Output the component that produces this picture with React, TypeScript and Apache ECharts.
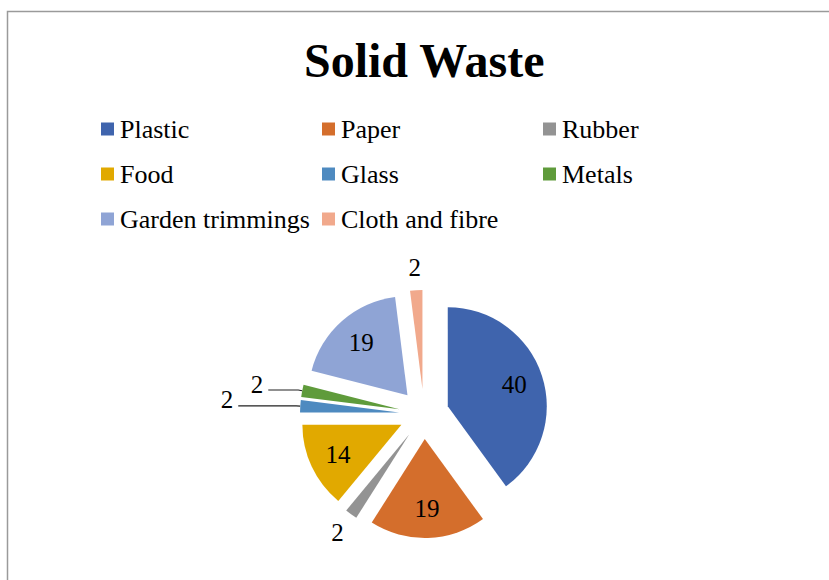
import React, { useEffect, useRef } from 'react';
import * as echarts from 'echarts';

const categories = ['Plastic', 'Paper', 'Rubber', 'Food', 'Glass', 'Metals', 'Garden trimmings', 'Cloth and fibre'];
const values = [40, 19, 2, 14, 2, 2, 19, 2];
const colors = ['#3F64AD', '#D46E2C', '#939393', '#E1A900', '#4E8AC0', '#5F9B3B', '#8FA4D5', '#F1A98C'];

// layout / style constants
const CX = 424;
const CY = 414;
const R = 99;
const OFF = 25;
const FONT = '"Liberation Serif", "Times New Roman", serif';
const leaderLen: Record<string, number> = { Glass: 58, Metals: 30 };
const outsideNoLine = ['Rubber', 'Cloth and fibre'];

export default function App() {
  const ref = useRef<HTMLDivElement>(null);
  useEffect(() => {
    const chart = echarts.init(ref.current!, null, { renderer: 'svg' });
    const total = values.reduce((a, b) => a + b, 0);
    const isInside = (i: number) => values[i] / total >= 0.1;

    const labelBase = { fontFamily: FONT, fontSize: 25, color: '#000', formatter: '{c}' };
    const common = {
      type: 'pie',
      center: [CX, CY],
      startAngle: 90,
      clockwise: true,
      avoidLabelOverlap: false,
      emphasis: { disabled: true },
    };

    const mainData = categories.map((name, i) => ({
      name,
      value: values[i],
      selected: true,
      itemStyle: { color: colors[i] },
    }));

    const transparentData = (show: (i: number) => boolean, extra?: (i: number) => any) =>
      categories.map((name, i) => ({
        name,
        value: values[i],
        itemStyle: { color: 'rgba(0,0,0,0)' },
        label: { show: show(i) },
        ...(extra ? extra(i) : {}),
      }));

    chart.setOption({
      animation: false,
      backgroundColor: '#ffffff',
      graphic: [
        {
          type: 'rect',
          shape: { x: 7.5, y: 11.5, width: 900, height: 700 },
          style: { fill: 'none', stroke: '#9a9a9a', lineWidth: 1.5 },
          silent: true,
        },
      ],
      title: {
        text: 'Solid Waste',
        left: 304,
        top: 36,
        padding: 0,
        textStyle: { fontFamily: FONT, fontWeight: 'bold', fontSize: 48, color: '#000' },
      },
      legend: {
        data: categories.map((name, i) => ({ name, itemStyle: { color: colors[i] } })),
        left: 101,
        top: 106.5,
        width: 700,
        padding: 0,
        itemGap: 0,
        itemWidth: 13,
        itemHeight: 13,
        icon: 'rect',
        selectedMode: false,
        textStyle: {
          fontFamily: FONT,
          fontSize: 26,
          color: '#000',
          width: 202,
          lineHeight: 45,
          padding: [0, 0, 0, 1],
        },
      },
      series: [
        {
          ...common,
          name: 'Solid Waste',
          radius: R,
          selectedMode: 'multiple',
          selectedOffset: OFF,
          itemStyle: { borderWidth: 0 },
          label: { show: false },
          labelLine: { show: false },
          select: { itemStyle: { borderWidth: 0 } },
          data: mainData,
        },
        {
          ...common,
          name: 'inner labels',
          silent: true,
          radius: [78, 106],
          label: { ...labelBase, position: 'inside' },
          labelLine: { show: false },
          data: transparentData((i) => isInside(i)),
        },
        {
          ...common,
          name: 'outer labels',
          silent: true,
          radius: [132, 156],
          label: { ...labelBase, position: 'inside' },
          labelLine: { show: false },
          data: transparentData((i) => outsideNoLine.includes(categories[i])),
        },
        {
          ...common,
          name: 'leader labels',
          silent: true,
          radius: R + OFF,
          label: { ...labelBase, position: 'outside', distanceToLabelLine: 5, offset: [0, -6] },
          labelLine: { show: true, length: 4, smooth: false, lineStyle: { color: '#222', width: 1.2 } },
          data: transparentData(
            (i) => !!leaderLen[categories[i]],
            (i) => ({
              labelLine: {
                show: !!leaderLen[categories[i]],
                length: 4,
                length2: leaderLen[categories[i]] || 0,
                lineStyle: { color: '#222', width: 1.2 },
              },
            })
          ),
        },
      ],
    });
    return () => chart.dispose();
  }, []);
  return (
    <div
      ref={ref}
      style={{ position: 'absolute', left: 0, top: 0, width: 829, height: 580, background: '#fff' }}
    />
  );
}
